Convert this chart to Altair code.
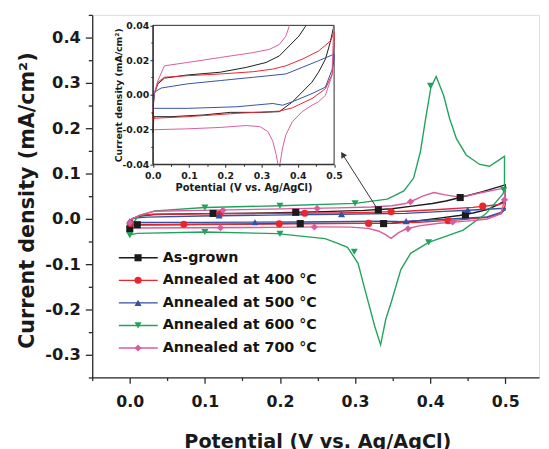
import altair as alt
import pandas as pd

# ---------------- data ----------------
SERIES = ["As-grown", "Annealed at 400 °C", "Annealed at 500 °C",
          "Annealed at 600 °C", "Annealed at 700 °C"]
COLORS = ["#1b1b1b", "#e8262c", "#3551a6", "#22a35d", "#d85c9f"]
SHAPES = ["square", "circle", "triangle-up", "triangle-down", "diamond"]

# As-grown
BLACK_UP_X = [0.0, 0.003, 0.014, 0.032, 0.095, 0.186, 0.258, 0.312, 0.349, 0.376, 0.403, 0.421, 0.44, 0.47, 0.5]
BLACK_UP_Y = [-0.013, 0.0, 0.0063, 0.0096, 0.0114, 0.013, 0.0158, 0.0186, 0.0224, 0.0281, 0.0338, 0.0394, 0.047, 0.06, 0.075]
BLACK_DN_X = [0.5, 0.498, 0.489, 0.476, 0.457, 0.439, 0.412, 0.385, 0.349, 0.3, 0.214, 0.14, 0.05, 0.003, 0.0]
BLACK_DN_Y = [0.045, 0.0385, 0.03, 0.0205, 0.013, 0.0073, 0.0016, -0.0041, -0.0097, -0.0101, -0.0101, -0.0116, -0.0126, -0.0126, -0.022]
# 400 C
RED_UP_X = [0.0, 0.003, 0.014, 0.032, 0.095, 0.186, 0.277, 0.331, 0.367, 0.412, 0.457, 0.49, 0.5]
RED_UP_Y = [-0.014, 0.0, 0.0073, 0.0101, 0.011, 0.012, 0.0133, 0.0148, 0.0167, 0.0205, 0.0252, 0.031, 0.036]
RED_DN_X = [0.5, 0.495, 0.476, 0.439, 0.42, 0.385, 0.349, 0.23, 0.095, 0.003, 0.0]
RED_DN_Y = [0.03, 0.012, 0.0035, -0.0022, -0.004, -0.0075, -0.0094, -0.0107, -0.0126, -0.0135, -0.015]
# 500 C
BLUE_UP_X = [0.0, 0.005, 0.023, 0.095, 0.186, 0.277, 0.367, 0.412, 0.457, 0.5]
BLUE_UP_Y = [-0.008, 0.0016, 0.0039, 0.0063, 0.0082, 0.0101, 0.012, 0.0158, 0.0196, 0.0234]
BLUE_DN_X = [0.5, 0.495, 0.476, 0.439, 0.385, 0.358, 0.331, 0.23, 0.095, 0.005, 0.0]
BLUE_DN_Y = [0.02, 0.0148, 0.0044, 0.0007, -0.004, -0.006, -0.005, -0.0069, -0.0078, -0.0078, -0.008]
# 600 C
GREEN_UP_X = [0.0, 0.004, 0.012, 0.034, 0.1, 0.2, 0.3, 0.343, 0.365, 0.378, 0.387, 0.394, 0.401, 0.408,
              0.418, 0.426, 0.435, 0.448, 0.466, 0.479, 0.492, 0.499]
GREEN_UP_Y = [-0.035, -0.01, 0.007, 0.0175, 0.025, 0.029, 0.034, 0.0435, 0.0615, 0.09, 0.148, 0.221, 0.29, 0.314,
              0.272, 0.221, 0.177, 0.141, 0.12, 0.116, 0.13, 0.138]
GREEN_DN_X = [0.499, 0.497, 0.474, 0.444, 0.398, 0.374, 0.361, 0.348, 0.341, 0.334, 0.326, 0.312, 0.304,
              0.29, 0.277, 0.26, 0.196, 0.1, 0.01, 0.0]
GREEN_DN_Y = [0.065, 0.055, 0.011, -0.025, -0.052, -0.076, -0.112, -0.185, -0.221, -0.278, -0.236, -0.149, -0.098,
              -0.063, -0.054, -0.0435, -0.0326, -0.029, -0.032, -0.035]
# 700 C
PINK_UP_X = [0.0, 0.003, 0.014, 0.032, 0.095, 0.186, 0.277, 0.322, 0.349, 0.367, 0.376, 0.39, 0.405, 0.42,
             0.435, 0.45, 0.466, 0.49, 0.5]
PINK_UP_Y = [-0.01, 0.0, 0.0082, 0.0167, 0.0186, 0.0215, 0.0243, 0.0262, 0.029, 0.0338, 0.0394, 0.05, 0.058, 0.053,
             0.049, 0.051, 0.057, 0.065, 0.068]
PINK_DN_X = [0.5, 0.494, 0.476, 0.457, 0.439, 0.412, 0.385, 0.367, 0.358, 0.348, 0.34, 0.331, 0.317, 0.295,
             0.258, 0.186, 0.095, 0.003, 0.0]
PINK_DN_Y = [0.045, 0.011, -0.0003, -0.004, -0.006, -0.0097, -0.0154, -0.023, -0.0305, -0.043, -0.0343, -0.0268,
             -0.0211, -0.0183, -0.0177, -0.0188, -0.0196, -0.0201, -0.02]

# symbol markers placed along each curve
BLACK_MK_X = [0.0, 0.01, 0.111, 0.221, 0.227, 0.331, 0.338, 0.44, 0.447]
BLACK_MK_Y = [-0.022, -0.013, 0.012, 0.0144, -0.0105, 0.020, -0.0105, 0.047, 0.0087]
RED_MK_X = [0.001, 0.072, 0.12, 0.199, 0.233, 0.318, 0.348, 0.424, 0.47]
RED_MK_Y = [-0.01, -0.012, 0.011, -0.011, 0.0125, -0.010, 0.0155, -0.004, 0.028]
BLUE_MK_X = [0.0, 0.119, 0.1667, 0.282, 0.368, 0.45]
BLUE_MK_Y = [-0.005, 0.0075, -0.0075, 0.0105, -0.005, 0.02]
GREEN_MK_X = [0.0, 0.1, 0.1, 0.2, 0.2, 0.3, 0.299, 0.4005, 0.398, 0.498]
GREEN_MK_Y = [-0.036, 0.025, -0.029, 0.029, -0.033, 0.034, -0.0726, 0.2935, -0.052, 0.0637]
PINK_MK_X = [0.0, 0.124, 0.1207, 0.2495, 0.2458, 0.3738, 0.3705, 0.43, 0.499]
PINK_MK_Y = [-0.0085, 0.019, -0.0196, 0.023, -0.018, 0.0376, -0.022, -0.007, 0.042]

CURVES = {
    SERIES[0]: (BLACK_UP_X + BLACK_DN_X, BLACK_UP_Y + BLACK_DN_Y),
    SERIES[1]: (RED_UP_X + RED_DN_X, RED_UP_Y + RED_DN_Y),
    SERIES[2]: (BLUE_UP_X + BLUE_DN_X, BLUE_UP_Y + BLUE_DN_Y),
    SERIES[3]: (GREEN_UP_X + GREEN_DN_X, GREEN_UP_Y + GREEN_DN_Y),
    SERIES[4]: (PINK_UP_X + PINK_DN_X, PINK_UP_Y + PINK_DN_Y),
}
MARKERS = {
    SERIES[0]: (BLACK_MK_X, BLACK_MK_Y),
    SERIES[1]: (RED_MK_X, RED_MK_Y),
    SERIES[2]: (BLUE_MK_X, BLUE_MK_Y),
    SERIES[3]: (GREEN_MK_X, GREEN_MK_Y),
    SERIES[4]: (PINK_MK_X, PINK_MK_Y),
}
INSET_SERIES = [SERIES[0], SERIES[1], SERIES[2], SERIES[4]]

MAIN_X_TICKS = [-0.05, 0.0, 0.05, 0.1, 0.15, 0.2, 0.25, 0.3, 0.35, 0.4, 0.45, 0.5]
MAIN_Y_MAJOR = [-0.3, -0.2, -0.1, 0.0, 0.1, 0.2, 0.3, 0.4]
MAIN_Y_MINOR = [-0.35, -0.25, -0.15, -0.05, 0.05, 0.15, 0.25, 0.35, 0.45]
INSET_X_TICKS = [0.0, 0.05, 0.1, 0.15, 0.2, 0.25, 0.3, 0.35, 0.4, 0.45, 0.5]
INSET_Y_TICKS = [-0.04, -0.03, -0.02, -0.01, 0.0, 0.01, 0.02, 0.03, 0.04]

ARROW_TAIL = (0.3295, 0.0224)
ARROW_HEAD = (0.2835, 0.142)

# ---------------- layout ----------------
W, H = 453.5, 368
IX0, IX1 = 61.5, 245.5      # inset x range (px in plot area)
IY_TOP, IY_BOT = 10.6, 151.6  # inset y range
FONT = "DejaVu Sans"
AX = "#2a2a2a"

# ---------------- frames ----------------
rows = []
for s in SERIES:
    xs, ys = CURVES[s]
    for i, (x, y) in enumerate(zip(xs, ys)):
        rows.append({"series": s, "x": x, "y": y, "i": i})
curve_df = pd.DataFrame(rows)

mk_rows = []
for s in SERIES:
    xs, ys = MARKERS[s]
    for x, y in zip(xs, ys):
        mk_rows.append({"series": s, "x": x, "y": y})
marker_df = pd.DataFrame(mk_rows)


def clip_runs(xs, ys, lo, hi):
    """Cut a polyline at the inset's y-limits (geometric clipping)."""
    runs, cur = [], []
    for k in range(len(xs) - 1):
        x0, y0, x1, y1 = xs[k], ys[k], xs[k + 1], ys[k + 1]
        dy = y1 - y0
        if dy == 0:
            seg = (0.0, 1.0) if lo <= y0 <= hi else None
        else:
            ta, tb = (lo - y0) / dy, (hi - y0) / dy
            t0, t1 = max(0.0, min(ta, tb)), min(1.0, max(ta, tb))
            seg = (t0, t1) if t0 <= t1 else None
        if seg is None:
            if cur:
                runs.append(cur)
                cur = []
            continue
        t0, t1 = seg
        p = (x0 + t0 * (x1 - x0), y0 + t0 * dy)
        q = (x0 + t1 * (x1 - x0), y0 + t1 * dy)
        if cur and t0 == 0.0:
            cur.append(q)
        else:
            if cur:
                runs.append(cur)
            cur = [p, q]
        if t1 < 1.0:
            runs.append(cur)
            cur = []
    if cur:
        runs.append(cur)
    return runs


in_rows = []
for s in INSET_SERIES:
    xs, ys = CURVES[s]
    for r, run in enumerate(clip_runs(xs, ys, -0.04, 0.04)):
        for i, (x, y) in enumerate(run):
            in_rows.append({"series": s, "run": f"{s}|{r}", "x": x, "y": y, "i": i})
inset_df = pd.DataFrame(in_rows)

LEG_Y0, LEG_DY = 246.5, 22.9
leg_df = pd.DataFrame({
    "series": SERIES,
    "ly": [LEG_Y0 + k * LEG_DY for k in range(len(SERIES))],
    "lx0": 27.0, "lx1": 66.5, "mx": 46.5, "tx": 71.5,
})
arrow_df = pd.DataFrame({"x": [ARROW_TAIL[0]], "y": [ARROW_TAIL[1]],
                         "x2": [ARROW_HEAD[0]], "y2": [ARROW_HEAD[1]]})

# ---------------- scales & axes ----------------
color = alt.Color("series:N", scale=alt.Scale(domain=SERIES, range=COLORS), legend=None)
shape = alt.Shape("series:N", scale=alt.Scale(domain=SERIES, range=SHAPES), legend=None)
mx_scale = alt.Scale(domain=[-0.05, 0.545], nice=False, zero=False)
my_scale = alt.Scale(domain=[-0.35, 0.45], nice=False, zero=False)
ix_scale = alt.Scale(domain=[0.0, 0.5], range=[IX0, IX1], nice=False, zero=False)
iy_scale = alt.Scale(domain=[-0.04, 0.04], range=[IY_BOT, IY_TOP], nice=False, zero=False)

MAJOR1 = "abs(round(datum.value*100)) % 10 == 0"
LBL1 = MAJOR1 + " ? (datum.value < -0.0001 ? '-' : '') + format(abs(datum.value), '.1f') : ''"
LBLY = "(datum.value < -0.0001 ? '-' : '') + format(abs(datum.value), '.1f')"
MAJOR2 = "abs(round(datum.value*1000)) % 20 == 0"
LBL2 = MAJOR2 + " ? (datum.value < -0.0001 ? '-' : '') + format(abs(datum.value), '.2f') : ''"

common = dict(domainColor=AX, tickColor=AX, labelColor="#1a1a1a", titleColor="#1a1a1a",
              labelFont=FONT, titleFont=FONT, labelFontWeight="bold", titleFontWeight="bold",
              grid=False, labelOverlap=False, labelFlush=False)

x_axis_main = alt.Axis(orient="bottom", values=MAIN_X_TICKS, labelExpr=LBL1,
                       tickSize={"condition": {"test": "!(" + MAJOR1 + ")", "value": 3}, "value": 6},
                       tickWidth=1.3, domainWidth=1.3, labelFontSize=16, labelPadding=10,
                       title="Potential (V vs. Ag/AgCl)", titleFontSize=19.5,
                       titleX=228.5, titleY=56.5, titleBaseline="top", titleAnchor="middle",
                       zindex=1, **common)
y_axis_main = alt.Axis(orient="left", values=MAIN_Y_MAJOR, labelExpr=LBLY,
                       tickSize=7, tickWidth=1.3, domainWidth=1.3, labelFontSize=16.5, labelPadding=5,
                       title="Current density (mA/cm²)", titleFontSize=21,
                       titleX=-56, titleY=188, titleAnchor="middle",
                       zindex=1, **common)
y_axis_minor = alt.Axis(orient="left", values=MAIN_Y_MINOR, labels=False, domain=False,
                        tickSize=4, tickWidth=1.3, tickColor=AX, grid=False, title=None, zindex=1)
x_axis_in = alt.Axis(orient="bottom", offset=-(H - IY_BOT), values=INSET_X_TICKS, labelExpr=LBL1,
                     tickSize={"condition": {"test": "!(" + MAJOR1 + ")", "value": 2}, "value": 3},
                     tickWidth=1, domainWidth=1, labelFontSize=9.5, labelPadding=3,
                     title="Potential (V vs. Ag/AgCl)", titleFontSize=10, titleY=19,
                     titleBaseline="top", zindex=2, **common)
y_axis_in = alt.Axis(orient="left", offset=-IX0, values=INSET_Y_TICKS, labelExpr=LBL2,
                     tickSize={"condition": {"test": "!(" + MAJOR2 + ")", "value": 2}, "value": 3},
                     tickWidth=1, domainWidth=1, labelFontSize=9.5, labelPadding=1,
                     title="Current density (mA/cm²)", titleFontSize=9.5, titleX=-30,
                     zindex=2, **common)

# ---------------- main layers ----------------
main_lines = alt.Chart(curve_df).mark_line(strokeWidth=1.4).encode(
    x=alt.X("x:Q", scale=mx_scale, axis=x_axis_main),
    y=alt.Y("y:Q", scale=my_scale, axis=y_axis_main),
    color=color, detail="series:N", order="i:Q")
main_pts = alt.Chart(marker_df).mark_point(filled=True, size=52, opacity=1).encode(
    x=alt.X("x:Q", scale=mx_scale), y=alt.Y("y:Q", scale=my_scale), color=color, shape=shape)
arrow_line = alt.Chart(arrow_df).mark_rule(color="#333", strokeWidth=1).encode(
    x=alt.X("x:Q", scale=mx_scale), y=alt.Y("y:Q", scale=my_scale), x2="x2:Q", y2="y2:Q")
arrow_head = alt.Chart(arrow_df).mark_point(shape="triangle-up", filled=True, size=45, angle=327.5,
                                            color="#333", opacity=1).encode(
    x=alt.X("x2:Q", scale=mx_scale), y=alt.Y("y2:Q", scale=my_scale))
leg_lines = alt.Chart(leg_df).mark_rule(strokeWidth=1.4).encode(
    x=alt.X("lx0:Q", scale=None), x2="lx1:Q", y=alt.Y("ly:Q", scale=None), color=color)
leg_pts = alt.Chart(leg_df).mark_point(filled=True, size=52, opacity=1).encode(
    x=alt.X("mx:Q", scale=None), y=alt.Y("ly:Q", scale=None), color=color, shape=shape)
leg_txt = alt.Chart(leg_df).mark_text(align="left", baseline="middle", font=FONT, fontWeight="bold",
                                      fontSize=14.5, color="#151515").encode(
    x=alt.X("tx:Q", scale=None), y=alt.Y("ly:Q", scale=None), text="series:N")

main = alt.layer(main_lines, main_pts, arrow_line, arrow_head, leg_lines, leg_pts, leg_txt)

# minor ticks of the main y axis (same scale, separate axis)
minor = alt.Chart(marker_df).mark_point(opacity=0).encode(
    x=alt.X("x:Q", scale=mx_scale, axis=None),
    y=alt.Y("y:Q", scale=my_scale, axis=y_axis_minor))

# ---------------- inset layers ----------------
inset_frame = alt.Chart(leg_df.head(1)).mark_rect(fill="white", stroke=AX, strokeWidth=1).encode(
    x=alt.value(IX0), x2=alt.value(IX1), y=alt.value(IY_TOP), y2=alt.value(IY_BOT))
inset_lines = alt.Chart(inset_df).mark_line(strokeWidth=1).encode(
    x=alt.X("x:Q", scale=ix_scale, axis=x_axis_in),
    y=alt.Y("y:Q", scale=iy_scale, axis=y_axis_in),
    color=color, detail="run:N", order="i:Q")
inset = alt.layer(inset_frame, inset_lines)

chart = alt.layer(main, minor, inset).resolve_scale(x="independent", y="independent").properties(
    width=W, height=H,
    autosize=alt.AutoSizeParams(type="none"),
    padding={"left": 85.5, "top": 3.7, "right": 2, "bottom": 69.3},
).configure_view(stroke=AX, strokeWidth=1.3).configure(background="white")

chart.save("out.html", embed_options={"renderer": "svg", "actions": False})
